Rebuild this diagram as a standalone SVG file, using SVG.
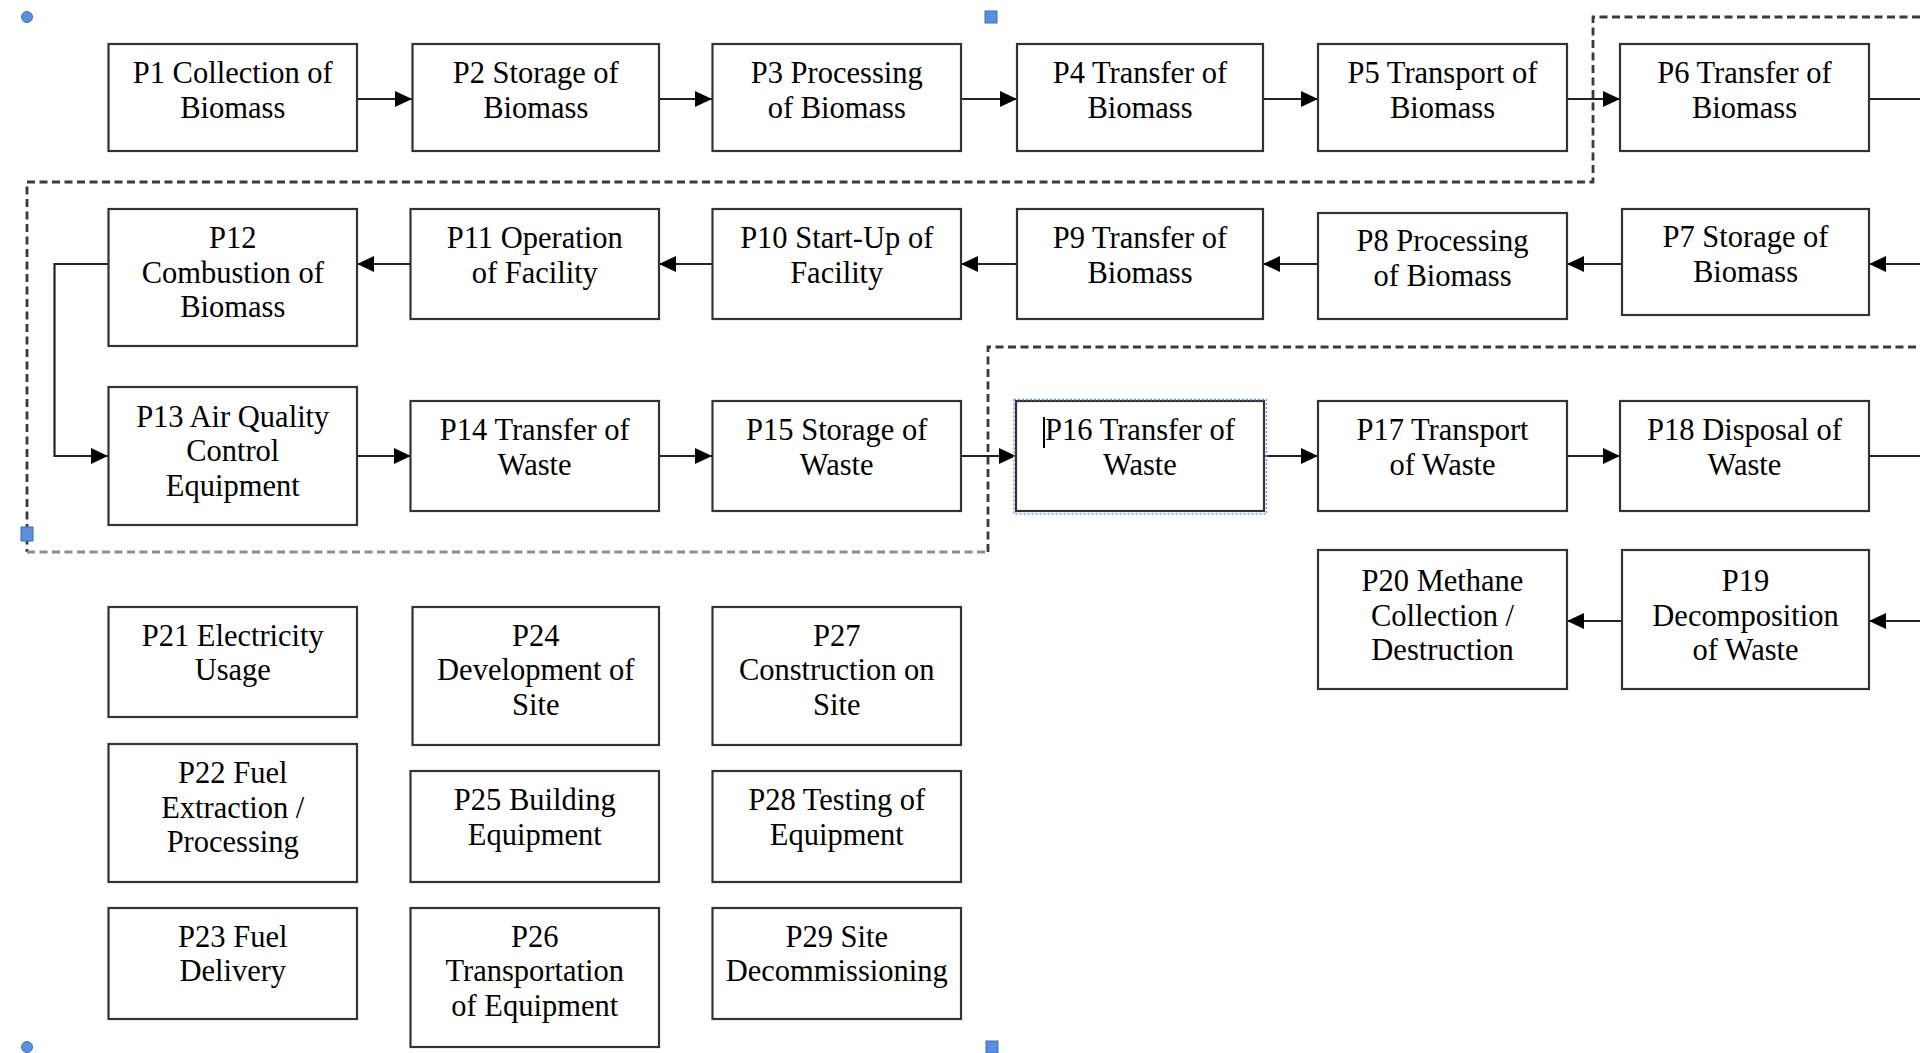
<svg xmlns="http://www.w3.org/2000/svg" width="1920" height="1053" viewBox="0 0 1920 1053">
  <style>
    .box rect { fill: #ffffff; stroke: #333333; stroke-width: 2.2; }
    .box text { font-family: "Liberation Serif", "Times New Roman", serif; font-size: 30.5px; fill: #000000; text-anchor: middle; }
    .conn path { fill: none; stroke: #222222; stroke-width: 2.2; }
    .bound { fill: none; stroke: #3a3a3a; stroke-width: 2.8; stroke-dasharray: 8 4.5; }
    .bound.light { stroke: #8c8c8c; }
    .handle { fill: #5b8fdc; stroke: #3d6fb8; stroke-width: 1; }
    .sel { fill: none; stroke: #6f9fe6; stroke-width: 1.5; stroke-dasharray: 2 2; }
  </style>
  <defs>
    <marker id="arrow" markerUnits="userSpaceOnUse" markerWidth="18" markerHeight="17" refX="17" refY="8" orient="auto">
      <path d="M0,0 L17,8 L0,16 Z" fill="#000000"/>
    </marker>
  </defs>
  <rect x="0" y="0" width="1920" height="1053" fill="#ffffff"/>

  <!-- system boundary (dashed) -->
  <g id="boundary">
    <path class="bound" d="M1920,17 H1593 V182 H27 V552"/>
    <path class="bound light" d="M27,552 H988"/>
    <path class="bound" d="M988,552 V347 H1920"/>
  </g>

  <!-- connectors -->
  <g class="conn" id="connectors">
    <path d="M357,99 H412" marker-end="url(#arrow)"/>
    <path d="M659,99 H712" marker-end="url(#arrow)"/>
    <path d="M961,99 H1017" marker-end="url(#arrow)"/>
    <path d="M1263,99 H1318" marker-end="url(#arrow)"/>
    <path d="M1567,99 H1620" marker-end="url(#arrow)"/>
    <path d="M1869,99 H1920"/>
    <path d="M1920,264 H1869" marker-end="url(#arrow)"/>
    <path d="M1622,264 H1567" marker-end="url(#arrow)"/>
    <path d="M1318,264 H1263" marker-end="url(#arrow)"/>
    <path d="M1017,264 H961" marker-end="url(#arrow)"/>
    <path d="M712,264 H659" marker-end="url(#arrow)"/>
    <path d="M411,264 H357" marker-end="url(#arrow)"/>
    <path d="M108,264 H54.5 V456 H108" marker-end="url(#arrow)"/>
    <path d="M357,456 H411" marker-end="url(#arrow)"/>
    <path d="M659,456 H712" marker-end="url(#arrow)"/>
    <path d="M961,456 H1016" marker-end="url(#arrow)"/>
    <path d="M1264,456 H1318" marker-end="url(#arrow)"/>
    <path d="M1567,456 H1620" marker-end="url(#arrow)"/>
    <path d="M1869,456 H1920"/>
    <path d="M1920,621 H1869" marker-end="url(#arrow)"/>
    <path d="M1622,621 H1567" marker-end="url(#arrow)"/>
  </g>

  <!-- process boxes -->
  <g class="box" id="p1"><rect x="108.5" y="44" width="248.5" height="107"/>
    <text x="232.75" y="83">P1 Collection of</text><text x="232.75" y="117.5">Biomass</text></g>
  <g class="box" id="p2"><rect x="412.5" y="44" width="246.5" height="107"/>
    <text x="535.75" y="83">P2 Storage of</text><text x="535.75" y="117.5">Biomass</text></g>
  <g class="box" id="p3"><rect x="712.5" y="44" width="248.5" height="107"/>
    <text x="836.75" y="83">P3 Processing</text><text x="836.75" y="117.5">of Biomass</text></g>
  <g class="box" id="p4"><rect x="1017" y="44" width="246" height="107"/>
    <text x="1140" y="83">P4 Transfer of</text><text x="1140" y="117.5">Biomass</text></g>
  <g class="box" id="p5"><rect x="1318" y="44" width="249" height="107"/>
    <text x="1442.5" y="83">P5 Transport of</text><text x="1442.5" y="117.5">Biomass</text></g>
  <g class="box" id="p6"><rect x="1620" y="44" width="249" height="107"/>
    <text x="1744.5" y="83">P6 Transfer of</text><text x="1744.5" y="117.5">Biomass</text></g>

  <g class="box" id="p7"><rect x="1622" y="209" width="247" height="106"/>
    <text x="1745.5" y="247">P7 Storage of</text><text x="1745.5" y="281.5">Biomass</text></g>
  <g class="box" id="p8"><rect x="1318" y="213" width="249" height="106"/>
    <text x="1442.5" y="251">P8 Processing</text><text x="1442.5" y="285.5">of Biomass</text></g>
  <g class="box" id="p9"><rect x="1017" y="209" width="246" height="110"/>
    <text x="1140" y="248">P9 Transfer of</text><text x="1140" y="282.5">Biomass</text></g>
  <g class="box" id="p10"><rect x="712.5" y="209" width="248.5" height="110"/>
    <text x="836.75" y="248">P10 Start-Up of</text><text x="836.75" y="282.5">Facility</text></g>
  <g class="box" id="p11"><rect x="410.5" y="209" width="248.5" height="110"/>
    <text x="534.75" y="248">P11 Operation</text><text x="534.75" y="282.5">of Facility</text></g>
  <g class="box" id="p12"><rect x="108.5" y="209" width="248.5" height="137"/>
    <text x="232.75" y="248">P12</text><text x="232.75" y="282.5">Combustion of</text><text x="232.75" y="317">Biomass</text></g>

  <g class="box" id="p13"><rect x="108.5" y="387" width="248.5" height="138"/>
    <text x="232.75" y="426.5">P13 Air Quality</text><text x="232.75" y="461">Control</text><text x="232.75" y="495.5">Equipment</text></g>
  <g class="box" id="p14"><rect x="410.5" y="401" width="248.5" height="110"/>
    <text x="534.75" y="440">P14 Transfer of</text><text x="534.75" y="474.5">Waste</text></g>
  <g class="box" id="p15"><rect x="712.5" y="401" width="248.5" height="110"/>
    <text x="836.75" y="440">P15 Storage of</text><text x="836.75" y="474.5">Waste</text></g>
  <g class="box" id="p16"><rect x="1016" y="401" width="248" height="110"/>
    <text x="1140" y="440">P16 Transfer of</text><text x="1140" y="474.5">Waste</text></g>
  <g class="box" id="p17"><rect x="1318" y="401" width="249" height="110"/>
    <text x="1442.5" y="440">P17 Transport</text><text x="1442.5" y="474.5">of Waste</text></g>
  <g class="box" id="p18"><rect x="1620" y="401" width="249" height="110"/>
    <text x="1744.5" y="440">P18 Disposal of</text><text x="1744.5" y="474.5">Waste</text></g>

  <g class="box" id="p19"><rect x="1622" y="550" width="247" height="139"/>
    <text x="1745.5" y="591">P19</text><text x="1745.5" y="625.5">Decomposition</text><text x="1745.5" y="660">of Waste</text></g>
  <g class="box" id="p20"><rect x="1318" y="550" width="249" height="139"/>
    <text x="1442.5" y="591">P20 Methane</text><text x="1442.5" y="625.5">Collection /</text><text x="1442.5" y="660">Destruction</text></g>

  <g class="box" id="p21"><rect x="108.5" y="607" width="248.5" height="110"/>
    <text x="232.75" y="645.5">P21 Electricity</text><text x="232.75" y="680">Usage</text></g>
  <g class="box" id="p22"><rect x="108.5" y="744" width="248.5" height="138"/>
    <text x="232.75" y="783">P22 Fuel</text><text x="232.75" y="817.5">Extraction /</text><text x="232.75" y="852">Processing</text></g>
  <g class="box" id="p23"><rect x="108.5" y="908" width="248.5" height="111"/>
    <text x="232.75" y="946.5">P23 Fuel</text><text x="232.75" y="981">Delivery</text></g>
  <g class="box" id="p24"><rect x="412.5" y="607" width="246.5" height="138"/>
    <text x="535.75" y="645.5">P24</text><text x="535.75" y="680">Development of</text><text x="535.75" y="714.5">Site</text></g>
  <g class="box" id="p25"><rect x="410.5" y="771" width="248.5" height="111"/>
    <text x="534.75" y="810">P25 Building</text><text x="534.75" y="844.5">Equipment</text></g>
  <g class="box" id="p26"><rect x="410.5" y="908" width="248.5" height="139"/>
    <text x="534.75" y="946.5">P26</text><text x="534.75" y="981">Transportation</text><text x="534.75" y="1015.5">of Equipment</text></g>
  <g class="box" id="p27"><rect x="712.5" y="607" width="248.5" height="138"/>
    <text x="836.75" y="645.5">P27</text><text x="836.75" y="680">Construction on</text><text x="836.75" y="714.5">Site</text></g>
  <g class="box" id="p28"><rect x="712.5" y="771" width="248.5" height="111"/>
    <text x="836.75" y="810">P28 Testing of</text><text x="836.75" y="844.5">Equipment</text></g>
  <g class="box" id="p29"><rect x="712.5" y="908" width="248.5" height="111"/>
    <text x="836.75" y="946.5">P29 Site</text><text x="836.75" y="981">Decommissioning</text></g>

  <!-- editing state: selection frame, text caret, canvas handles -->
  <g id="editing">
    <rect class="sel" x="1014" y="399.5" width="252.5" height="114.5"/>
    <line x1="1044" y1="417" x2="1044" y2="448" stroke="#000000" stroke-width="2"/>
    <circle class="handle" cx="27" cy="17" r="5.5"/>
    <rect class="handle" x="985" y="11" width="12" height="12"/>
    <rect class="handle" x="21" y="527" width="12" height="14"/>
    <circle class="handle" cx="27" cy="1047" r="5.5"/>
    <rect class="handle" x="986" y="1041" width="12" height="12"/>
  </g>
</svg>
